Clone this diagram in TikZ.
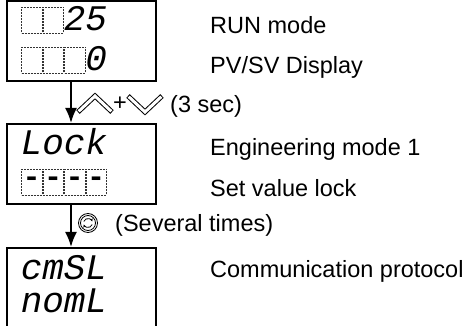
\documentclass[tikz,border=0pt]{standalone}
\usepackage{fontspec}
\setmainfont{Liberation Sans}
\newfontfamily\segfont{Liberation Mono}
\usetikzlibrary{arrows.meta}

\tikzset{
    panel/.style={draw, line width=2pt, minimum width=149pt, minimum height=80pt, inner sep=0pt},
    cell/.style={draw=black!80, line width=0.6pt, dash pattern=on 2pt off 1pt, minimum width=20.5pt, minimum height=26pt, inner sep=0pt},
    seg/.style={font=\segfont\itshape\fontsize{36}{36}\selectfont, anchor=base, inner sep=0pt},
    lbl/.style={font=\fontsize{23.5}{28}\selectfont, anchor=base west, inner sep=0pt},
    flow/.style={line width=2pt, -{Latex[length=15pt,width=12pt]}},
    upkey/.pic={
        \draw[line width=5pt, line join=miter] (-17,8) -- (0,-8) -- (17,8);
        \draw[white, line width=3pt, line join=miter, shorten <=1pt, shorten >=1pt] (-17,8) -- (0,-8) -- (17,8);
    },
    downkey/.pic={
        \draw[line width=5pt, line join=miter] (-17,-8) -- (0,8) -- (17,-8);
        \draw[white, line width=3pt, line join=miter, shorten <=1pt, shorten >=1pt] (-17,-8) -- (0,8) -- (17,-8);
    },
    rotkey/.pic={
        \draw[line width=0.8pt] (0,0) circle (9.5);
        \draw[line width=0.8pt] (0,0) circle (7.5);
        \draw[line width=0.8pt, -{Stealth[length=3pt,width=3pt]}] (200:4.5) arc (200:340:4.5);
        \draw[line width=0.8pt, -{Stealth[length=3pt,width=3pt]}] (20:4.5) arc (20:160:4.5);
    }
}

\begin{document}
\begin{tikzpicture}[x=1pt, y=-1pt]
    \clip (0,0) rectangle (469,326);

    \node[panel] (run) at (81.5,41.5) {};
    \node[panel] (lock) at (81.5,164) {};
    \node[panel] (cmsl) at (81.5,288) {};

    \foreach \i in {1,2}
        \node[cell] (runa\i) at (10.25+21.5*\i,20) {};
    \node[seg] (runa3) at (74.75,31) {2};
    \node[seg] (runa4) at (96.25,31) {5};
    \foreach \i in {1,2,3}
        \node[cell] (runb\i) at (10.25+21.5*\i,60) {};
    \node[seg] (runb4) at (96.25,71) {0};

    \foreach \c [count=\i] in {L,o,c,k}
        \node[seg] (locka\i) at (10.25+21.5*\i,154.5) {\c};
    \foreach \i in {1,2,3,4}
        \node[cell, font=\segfont\bfseries\fontsize{30}{30}\selectfont] (lockb\i) at (10.25+21.5*\i,182) {-};

    \foreach \c [count=\i] in {c,m,S,L}
        \node[seg] (cmsla\i) at (10.25+21.5*\i,279) {\c};
    \foreach \c [count=\i] in {n,o,m,L}
        \node[seg] (cmslb\i) at (10.25+21.5*\i,312) {\c};

    \node[lbl] (runlbl) at (210,33.5) {RUN mode};
    \node[lbl] (pvlbl) at (210,73.5) {PV/SV Display};
    \node[lbl] (englbl) at (210,155.5) {Engineering mode 1};
    \node[lbl] (locklbl) at (210,196.5) {Set value lock};
    \node[lbl] (commlbl) at (210,277.5) {Communication protocol};

    \coordinate (axis) at (71,0);
    \draw[flow] (run.south -| axis) -- (lock.north -| axis);
    \draw[flow] (lock.south -| axis) -- (cmsl.north -| axis);

    \pic at (95,104) {upkey};
    \node[lbl, anchor=center] (plus) at (120,104) {+};
    \pic at (145,104) {downkey};
    \node[lbl] (seclbl) at (170,113) {(3 sec)};

    \pic at (88,223) {rotkey};
    \node[lbl] (timeslbl) at (115,232) {(Several times)};
\end{tikzpicture}
\end{document}
